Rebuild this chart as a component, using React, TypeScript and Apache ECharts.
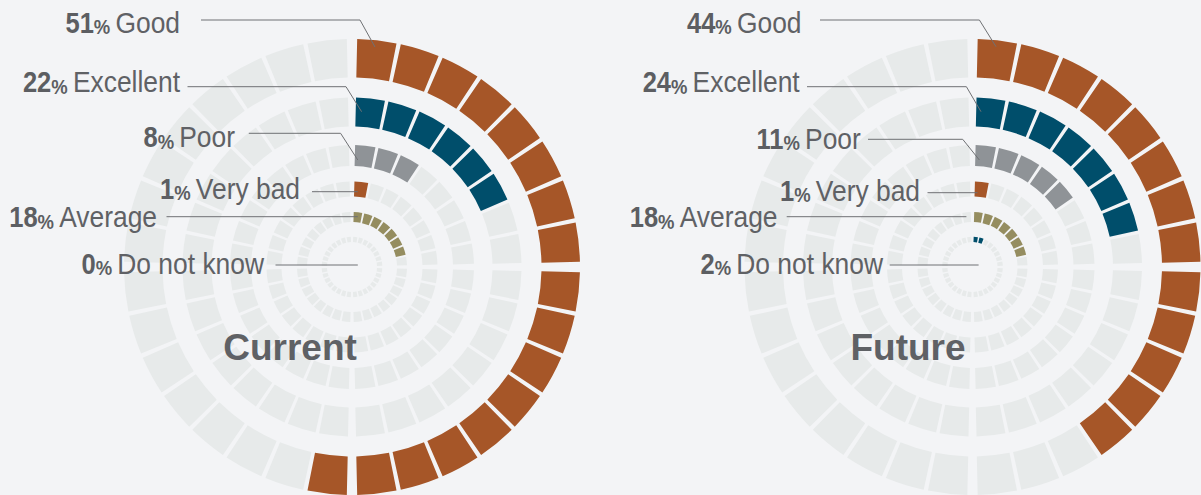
import React, { useEffect, useRef } from "react";
import * as echarts from "echarts";

// ---------- data ----------
const categories = ["Good", "Excellent", "Poor", "Very bad", "Average", "Do not know"];
const currentPercent = [51, 22, 8, 1, 18, 0];
const futurePercent = [44, 24, 11, 1, 18, 2];
// filled segments per ring (out of 32) as drawn in the picture
const currentSegments = [17, 6, 3, 1, 7, 0];
const futureSegments = [13, 7, 5, 1, 7, 2];
const panelTitles = ["Current", "Future"];
const SEGMENT_COUNT = 32;
const QUADRANTS = 4;

// ---------- layout & style ----------
const BG = "#f3f4f6";
const EMPTY = "#e7eaea";
const TEXT = "#5f6165";
const LINE = "#6f7174";
const ringColors = ["#a65628", "#004e6b", "#8f9397", "#a65628", "#958d60", "#004e6b"];
const ringRadii = [
  [189.5, 228],
  [140.5, 169.5],
  [101, 122],
  [70.5, 85.5],
  [45, 55],
  [25, 30.3],
];
const ringGaps = ["10%", "11%", "13%", "16%", "19%", "27%"];
const QUADRANT_EXTRA_GAP = 1.5; // degrees
const panelCenters = [
  [352, 267],
  [972.5, 267],
];
const titleAnchors = [
  [290, 347],
  [908, 347],
];
const labelAnchors = [
  [[180, 22], [180, 81.7], [235, 136.7], [300, 188], [157, 216.7], [264, 263.3]],
  [[801.5, 22], [799.7, 81.7], [860.8, 138.5], [920, 190], [777.5, 216.7], [883, 263.3]],
];
const leaderLines = [
  [
    [[201, 20], [360, 20], [375, 47]],
    [[187.5, 86.7], [346, 86.7], [361.6, 111.7]],
    [[248.8, 133.3], [340.6, 133.3], [357.8, 160]],
    [[312, 191.7], [357.8, 191.7]],
    [[166.5, 216.7], [357.8, 216.7]],
    [[275.5, 265], [357.8, 265]],
  ],
  [
    [[820, 20], [979.4, 20], [996, 46.7]],
    [[807, 86.7], [966.4, 86.7], [981, 111.7]],
    [[868, 139.3], [962.7, 139.3], [979.4, 160]],
    [[927.5, 192.7], [977.5, 192.7]],
    [[786.7, 216.7], [966.4, 216.7]],
    [[889.7, 265], [978.6, 265]],
  ],
];

const FONT = '"Liberation Sans", Arial, Helvetica, sans-serif';
const LABEL_SCALE_X = 0.88;

function buildOption() {
  const perQuadrant = SEGMENT_COUNT / QUADRANTS;
  const panels = [
    { pct: currentPercent, seg: currentSegments },
    { pct: futurePercent, seg: futureSegments },
  ];
  const polar: any[] = [];
  const angleAxis: any[] = [];
  const radiusAxis: any[] = [];
  const series: any[] = [];
  const graphic: any[] = [];

  panels.forEach((panel, p) => {
    categories.forEach((cat, j) => {
      for (let q = 0; q < QUADRANTS; q++) {
        const idx = polar.length;
        const slots = Array.from({ length: perQuadrant }, (_, k) => `q${q + 1}s${k + 1}`);
        const start = 90 - q * 90 - QUADRANT_EXTRA_GAP / 2;
        polar.push({ center: panelCenters[p], radius: ringRadii[j] });
        angleAxis.push({
          polarIndex: idx,
          type: "category",
          data: slots,
          startAngle: start,
          endAngle: start - (90 - QUADRANT_EXTRA_GAP),
          clockwise: true,
          axisLine: { show: false },
          axisTick: { show: false },
          axisLabel: { show: false },
          splitLine: { show: false },
        });
        radiusAxis.push({
          polarIndex: idx,
          type: "value",
          min: 0,
          max: 1,
          axisLine: { show: false },
          axisTick: { show: false },
          axisLabel: { show: false },
          splitLine: { show: false },
        });
        series.push({
          type: "bar",
          name: `${panelTitles[p]} ${cat} Q${q + 1}`,
          coordinateSystem: "polar",
          polarIndex: idx,
          barCategoryGap: ringGaps[j],
          silent: true,
          z: 2,
          data: slots.map((_, k) => ({
            value: 1,
            itemStyle: { color: q * perQuadrant + k < panel.seg[j] ? ringColors[j] : EMPTY },
          })),
        });
      }

      graphic.push({
        type: "polyline",
        silent: true,
        z: 50,
        shape: { points: leaderLines[p][j] },
        style: { stroke: LINE, lineWidth: 1, fill: "none" },
      });
      const [lx, ly] = labelAnchors[p][j];
      graphic.push({
        type: "text",
        x: lx,
        y: ly,
        scaleX: LABEL_SCALE_X,
        silent: true,
        z: 60,
        style: {
          text: `{n|${panel.pct[j]}}{p|% }{l|${cat}}`,
          align: "right",
          verticalAlign: "middle",
          rich: {
            n: { fontSize: 29, fontWeight: "bold", fontFamily: FONT, fill: "#5c5e62", verticalAlign: "bottom" },
            p: { fontSize: 21, fontWeight: "bold", fontFamily: FONT, fill: "#5c5e62", verticalAlign: "bottom" },
            l: { fontSize: 30, fontWeight: "normal", fontFamily: FONT, fill: TEXT, verticalAlign: "bottom" },
          },
        },
      });
    });
    graphic.push({
      type: "text",
      x: titleAnchors[p][0],
      y: titleAnchors[p][1],
      silent: true,
      z: 60,
      style: {
        text: panelTitles[p],
        font: `bold 37px ${FONT}`,
        fill: TEXT,
        align: "center",
        verticalAlign: "middle",
      },
    });
  });

  return {
    animation: false,
    backgroundColor: BG,
    polar,
    angleAxis,
    radiusAxis,
    series,
    graphic,
  };
}

export default function App() {
  const ref = useRef<HTMLDivElement>(null);
  useEffect(() => {
    document.body.style.margin = "0";
    document.body.style.background = BG;
    if (!ref.current) return;
    const chart = echarts.init(ref.current, undefined, { renderer: "svg" });
    chart.setOption(buildOption() as any);
    return () => chart.dispose();
  }, []);
  return (
    <div
      ref={ref}
      style={{ position: "fixed", left: 0, top: 0, width: 1201, height: 495, background: BG }}
    />
  );
}
